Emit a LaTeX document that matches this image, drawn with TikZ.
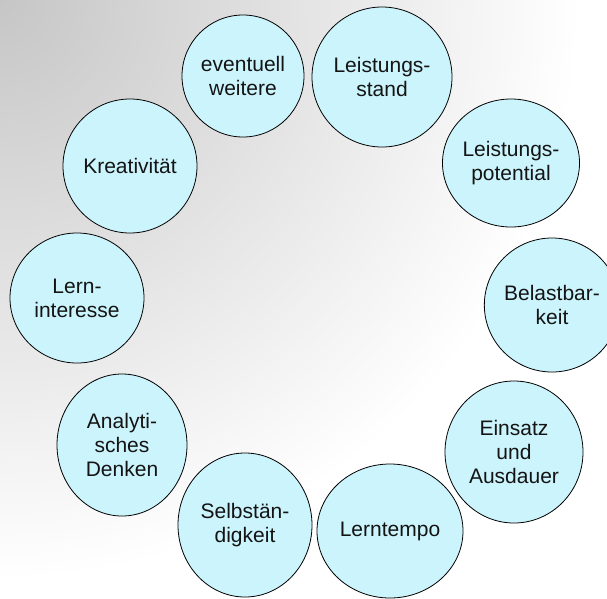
\documentclass[tikz,border=0pt]{standalone}
\usepackage{fontspec}
\setmainfont{Liberation Sans}
\usetikzlibrary{shapes.geometric}
\definecolor{bubblefill}{HTML}{CCF4FC}
\definecolor{bgdark}{HTML}{C6C6C6}
\begin{document}
\begin{tikzpicture}[x=1pt,y=-1pt,
  bubble/.style={ellipse, draw=black, line width=0.8pt, fill=bubblefill,
    inner sep=0pt, align=center, text=black!92,
    font=\fontsize{21}{24}\selectfont}]
\useasboundingbox (0,0) rectangle (607,598);
\begin{scope}
\clip (0,0) rectangle (607,598);
\shade[inner color=bgdark, outer color=white] (0,0) circle (580pt);
\end{scope}
\node[bubble, minimum width=122pt, minimum height=122pt] (weitere) at (243,76) {eventuell\\weitere};
\node[bubble, minimum width=140pt, minimum height=140pt] (stand) at (382,77) {Leistungs-\\stand};
\node[bubble, minimum width=134pt, minimum height=128pt] (potential) at (511,163) {Leistungs-\\potential};
\node[bubble, minimum width=134pt, minimum height=134pt] (belast) at (552,305) {Belastbar-\\keit};
\node[bubble, minimum width=138pt, minimum height=142pt] (einsatz) at (514,452) {Einsatz\\und\\Ausdauer};
\node[bubble, minimum width=146pt, minimum height=134pt] (tempo) at (390,531) {Lerntempo};
\node[bubble, minimum width=134pt, minimum height=144pt] (selb) at (245,525) {Selbstän-\\digkeit};
\node[bubble, minimum width=130pt, minimum height=142pt] (analyt) at (122,445) {Analyti-\\sches\\Denken};
\node[bubble, minimum width=134pt, minimum height=130pt] (interesse) at (77,298) {Lern-\\interesse};
\node[bubble, minimum width=134pt, minimum height=134pt] (kreativ) at (130,166) {Kreativität};
\end{tikzpicture}
\end{document}
